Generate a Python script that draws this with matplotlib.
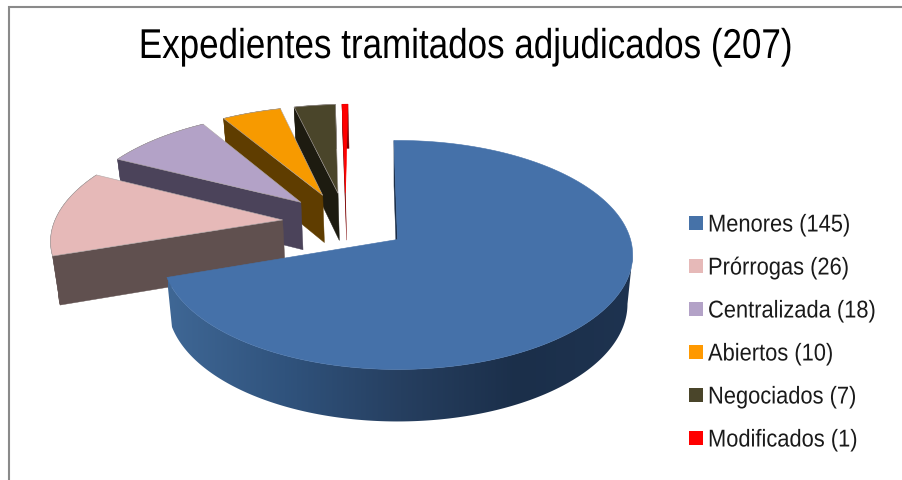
import numpy as np
import matplotlib
matplotlib.use('Agg')
import matplotlib.pyplot as plt
from matplotlib.colors import LinearSegmentedColormap
from matplotlib.patches import Polygon, Rectangle
from matplotlib.patheffects import AbstractPathEffect
from matplotlib.transforms import Affine2D

plt.rcParams['font.family'] = ['Liberation Sans', 'DejaVu Sans']

# Data
categories = ['Menores', 'Prórrogas', 'Centralizada', 'Abiertos', 'Negociados', 'Modificados']
values = [145, 26, 18, 10, 7, 1]
title = 'Expedientes tramitados adjudicados (207)'

top_colors = ['#4571A9', '#E6B9B8', '#B3A2C7', '#F79A00', '#4A452A', '#FF0000']
wall_colors = ['#1B2E48', '#60504F', '#4B435A', '#5F3D00', '#1D1B10', '#7A0000']
legend_colors = ['#4672A8', '#E6B9B8', '#B3A2C7', '#FF9900', '#4A452A', '#FF0000']

# 3D look of the pie, worked out from the picture
RX, RY = 233.0, 112.4
PERSP = 0.135
EXPLODE = 0.278
START = -1.0
DEPTH = 48.5
SHRINK = 0.022
APEX = (397.5, 240.5)

fracs = np.array(values) / sum(values)
edges = START + 360 * np.concatenate([[0], np.cumsum(fracs)])
mids = (edges[:-1] + edges[1:]) / 2


class Narrow(AbstractPathEffect):
    # the reference uses a narrow font, none is installed so squeeze the glyphs
    def __init__(self, sx, x0):
        super().__init__()
        self.sx = sx
        self.x0 = x0

    def draw_path(self, renderer, gc, tpath, affine, rgbFace=None):
        squeeze = Affine2D().translate(-self.x0, 0).scale(self.sx, 1).translate(self.x0, 0)
        renderer.draw_path(gc, tpath, affine + squeeze, rgbFace)


def project(u, v):
    d = 1 + PERSP * v
    return APEX[0] + RX * u / d, APEX[1] - RY * v / d


def lower(x, y, v):
    return x - (x - APEX[0]) * SHRINK, y + DEPTH / (1 + PERSP * v * 0.5)


fig = plt.figure(figsize=(9.03, 4.81), dpi=100)
ax = fig.add_axes([0, 0, 1, 1])
ax.axis('off')

ax.plot([9, 9, 903], [481, 8, 8], color='#8A8A8A', lw=1.5, solid_joinstyle='miter')

rim_cmap = LinearSegmentedColormap.from_list(
    'rim', ['#3F6795', '#30537D', '#263F60', '#1B2F4A', '#1E3350'])
base_u = EXPLODE * np.sin(np.radians(mids[0]))
base_v = EXPLODE * np.cos(np.radians(mids[0]))

# far slices first, Menores goes on top
for i in range(len(values) - 1, -1, -1):
    z = (len(values) - i) * 10
    ou = EXPLODE * np.sin(np.radians(mids[i])) - base_u
    ov = EXPLODE * np.cos(np.radians(mids[i])) - base_v
    t = np.radians(np.linspace(edges[i], edges[i + 1], max(int(edges[i + 1] - edges[i]) * 2, 4)))
    uu, vv = ou + np.sin(t), ov + np.cos(t)
    arc_x, arc_y = project(uu, vv)
    ap_x, ap_y = project(ou, ov)
    lo_x, lo_y = lower(arc_x, arc_y, vv)
    lo_ap_x, lo_ap_y = lower(ap_x, ap_y, ov)

    # outer wall
    if i == 0:
        # silhouette of the swept rim, from the rightmost point round the front
        a, b = np.argmax(arc_x), np.argmax(lo_x)
        rim = np.column_stack([np.r_[arc_x[a:], lo_x[b:][::-1]], np.r_[arc_y[a:], lo_y[b:][::-1]]])
        patch = Polygon(rim, closed=True, facecolor='none', edgecolor='none', zorder=z)
        ax.add_patch(patch)
        img = ax.imshow(np.linspace(0, 1, 256).reshape(1, -1), cmap=rim_cmap, aspect='auto',
                        extent=(168, 634, 430, 250), zorder=z)
        img.set_clip_path(patch)
    else:
        rim = np.column_stack([np.r_[arc_x, lo_x[::-1]], np.r_[arc_y, lo_y[::-1]]])
        ax.add_patch(Polygon(rim, closed=True, facecolor=wall_colors[i],
                             edgecolor=wall_colors[i], lw=0.3, zorder=z))

    # radial wall on the first edge of the slice
    wall = [(ap_x, ap_y), (arc_x[0], arc_y[0]), (lo_x[0], lo_y[0]), (lo_ap_x, lo_ap_y)]
    ax.add_patch(Polygon(wall, closed=True, facecolor=wall_colors[i],
                         edgecolor=wall_colors[i], lw=0.3, zorder=z + 1))

    # top face
    top = np.column_stack([np.r_[ap_x, arc_x], np.r_[ap_y, arc_y]])
    outline = '#B0A8A8' if 0 < i < 5 else top_colors[i]
    ax.add_patch(Polygon(top, closed=True, facecolor=top_colors[i], edgecolor=outline,
                         lw=0.4, zorder=z + 2))

ax.set_xlim(0, 903)
ax.set_ylim(481, 0)

ax.text(465, 48, title, fontsize=30, ha='center', va='center', color='black',
        path_effects=[Narrow(0.84, 465)])

# legend
for i, name in enumerate(categories):
    y = 224 + i * 43
    ax.add_patch(Rectangle((689, y - 7), 14, 14, facecolor=legend_colors[i], edgecolor='none'))
    ax.text(708, y + 2.5, '%s (%d)' % (name, values[i]), fontsize=17.5, ha='left', va='center',
            color='#1A1A1A', path_effects=[Narrow(0.9, 708)])

fig.savefig('out.png', dpi=100)
